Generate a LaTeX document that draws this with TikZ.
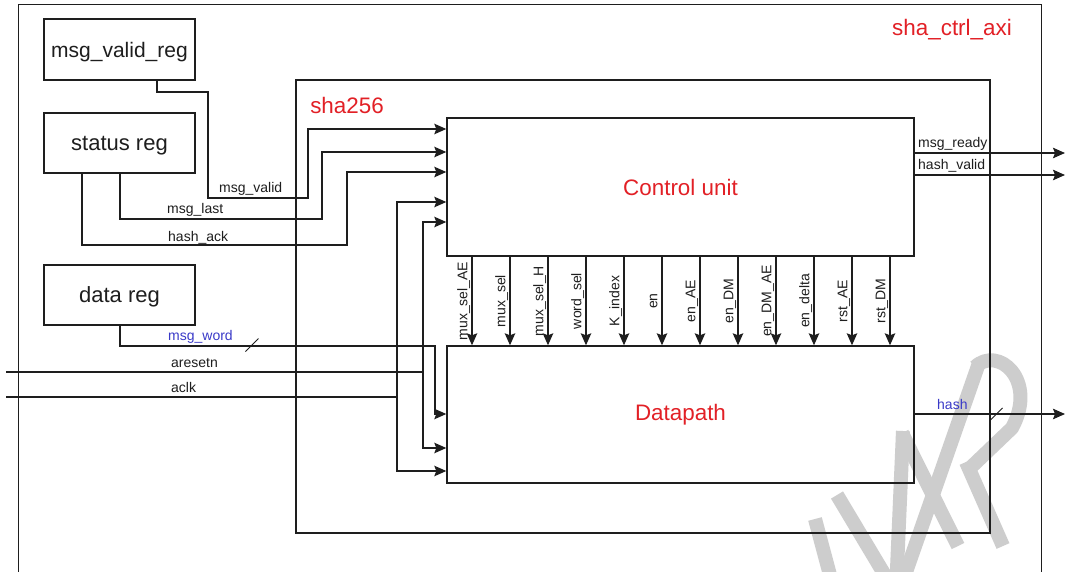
\documentclass[tikz,border=0pt]{standalone}
\usepackage{fontspec}
\setmainfont{Liberation Sans}
\usetikzlibrary{arrows.meta,calc}
\definecolor{ttred}{RGB}{226,32,38}
\definecolor{ttblue}{RGB}{58,58,200}
\definecolor{wmgray}{RGB}{205,205,205}
\definecolor{ink}{RGB}{30,30,30}
\tikzset{
  box/.style={draw=ink, line width=1.4pt, inner sep=0pt, fill=none},
  boxtxt/.style={font=\fontsize{22}{24}\selectfont, text=ink, text depth=0pt},
  title/.style={font=\fontsize{22.4}{24}\selectfont, text=ttred},
  lbl/.style={font=\fontsize{14}{16}\selectfont, text=ink, inner sep=0pt},
  blbl/.style={font=\fontsize{14}{16}\selectfont, text=ttblue, inner sep=0pt},
  wire/.style={draw=ink, line width=1.3pt},
  arr/.style={draw=ink, line width=1.3pt, -{Stealth[length=12pt,width=10.5pt,inset=2pt]}},
  slash/.style={draw=ink, line width=0.8pt},
  wm/.style={draw=wmgray, line width=14pt, line cap=butt, line join=bevel}
}
\begin{document}
\begin{tikzpicture}[x=1pt,y=-1pt]
\useasboundingbox (0,0) rectangle (1066,571);
\clip (0,0) rectangle (1066,571);
\fill[white] (0,0) rectangle (1066,571);

% watermark (partly visible)
\draw[wm] (815,519) -- (834,590);
\draw[wm] (837,495) -- (895,592);
\draw[wm] (896,592) -- (903,431);
\draw[wm] (902,433) -- (958,546);
\draw[wm] (899,592) -- (979,363);
\draw[wm] (975,367) .. controls (998,345) and (1038,380) .. (1012,428) -- (966,472);
\draw[wm] (966,462) -- (1003,546);

% outer and inner containers
\node[box, anchor=north west, minimum width=1023pt, minimum height=620pt] (axi) at (18,4) {};
\node[title, anchor=center] (taxi) at (952,30) {sha\_ctrl\_axi};
\node[box, minimum width=694pt, minimum height=453pt] (sha) at (643,306.5) {};
\node[title] (tsha) at (347,105) {sha256};

% registers
\node[box, boxtxt, minimum width=151pt, minimum height=61pt, font=\fontsize{21}{23}\selectfont] (mvr) at (119.5,49.5) {msg\_valid\_reg};
\node[box, boxtxt, minimum width=151pt, minimum height=60pt] (st) at (119.5,143) {status reg};
\node[box, boxtxt, minimum width=151pt, minimum height=60pt] (dr) at (119.5,295) {data reg};

% control unit and datapath
\node[box, title, minimum width=467pt, minimum height=138pt] (cu) at (680.5,187) {Control unit};
\node[box, title, minimum width=467pt, minimum height=137pt] (dp) at (680.5,414.5) {Datapath};

% helper coordinates
\coordinate (y129) at (0,129);
\coordinate (y152) at (0,152);
\coordinate (y172) at (0,172);
\coordinate (y202) at (0,202);
\coordinate (y222) at (0,222);
\coordinate (y414) at (0,414);
\coordinate (y448) at (0,448);
\coordinate (y471) at (0,471);
\coordinate (y153) at (0,153);
\coordinate (y175) at (0,175);
\coordinate (rstin) at (6,372);
\coordinate (clkin) at (6,397);
\coordinate (rstj) at (423,372);
\coordinate (clkj) at (397,397);
\coordinate (oready) at (1065,153);
\coordinate (ovalid) at (1065,175);
\coordinate (ohash) at (1065,414);

% inputs to control unit
\draw[arr] ([xshift=37.5pt]mvr.south) |- (208,92) |- (308,198) |- (cu.west |- y129);
\node[lbl, anchor=base west] (lmv) at (219,192) {msg\_valid};
\draw[arr] ([xshift=0.5pt]st.south) |- (322,219) |- (cu.west |- y152);
\node[lbl, anchor=base west] (lml) at (167,213.5) {msg\_last};
\draw[arr] ([xshift=-37.5pt]st.south) |- (347,245) |- (cu.west |- y172);
\node[lbl, anchor=base west] (lha) at (168,241) {hash\_ack};

% msg_word bus
\draw[arr] ([xshift=0.5pt]dr.south) |- (435,346) |- (dp.west |- y414);
\node[blbl, anchor=base west] (lmw) at (168,340.5) {msg\_word};
\draw[slash] (245.5,351.5) -- (258.5,338.5);

% aresetn, aclk
\draw[wire] (rstin) -- (rstj);
\draw[arr] (rstj) |- (cu.west |- y222);
\draw[arr] (rstj) |- (dp.west |- y448);
\node[lbl, anchor=base west] (lrs) at (171,367.5) {aresetn};
\draw[wire] (clkin) -- (clkj);
\draw[arr] (clkj) |- (cu.west |- y202);
\draw[arr] (clkj) |- (dp.west |- y471);
\node[lbl, anchor=base west] (lck) at (171,392.5) {aclk};

% control signals
\foreach \i/\t in {0/mux\_sel\_AE,1/mux\_sel,2/mux\_sel\_H,3/word\_sel,4/K\_index,5/en,6/en\_AE,7/en\_DM,8/en\_DM\_AE,9/en\_delta,10/rst\_AE,11/rst\_DM}{
  \coordinate (cx\i) at ({472+38*\i},0);
  \draw[arr] (cu.south -| cx\i) -- (dp.north -| cx\i);
  \node[lbl, rotate=90, anchor=base] (cl\i) at ({467.3+38*\i},301) {\t};
}

% outputs
\draw[arr] (cu.east |- y153) -- (oready);
\node[lbl, anchor=base west] (lrd) at (918,147) {msg\_ready};
\draw[arr] (cu.east |- y175) -- (ovalid);
\node[lbl, anchor=base west] (lhv) at (918,169.5) {hash\_valid};
\draw[arr] (dp.east |- y414) -- (ohash);
\node[blbl, anchor=base west] (lhs) at (937,409.5) {hash};
\draw[slash] (990.5,420) -- (1002.5,408);
\end{tikzpicture}
\end{document}
